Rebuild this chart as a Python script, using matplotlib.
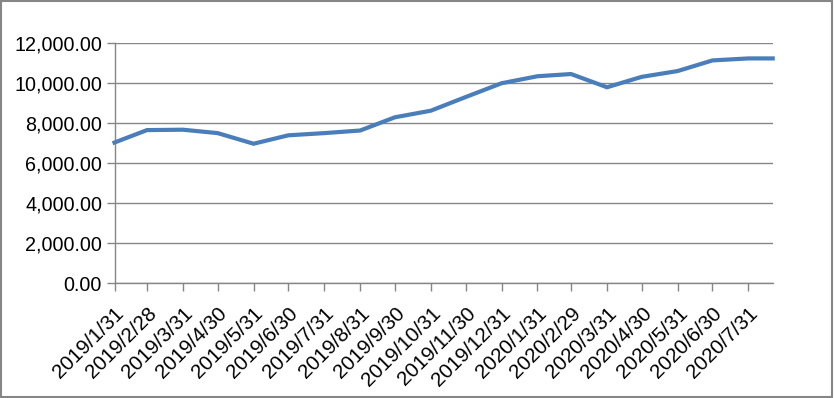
import matplotlib
matplotlib.use("Agg")
import matplotlib.pyplot as plt
import matplotlib.transforms as mtransforms
from matplotlib.patches import Rectangle
from matplotlib.ticker import FuncFormatter, MultipleLocator
import datetime as dt

dates = ["2019-01-31", "2019-02-28", "2019-03-31", "2019-04-30", "2019-05-31",
         "2019-06-30", "2019-07-31", "2019-08-31", "2019-09-30", "2019-10-31",
         "2019-11-30", "2019-12-31", "2020-01-31", "2020-02-29", "2020-03-31",
         "2020-04-30", "2020-05-31", "2020-06-30", "2020-07-31", "2020-08-21"]
values = [7030, 7650, 7670, 7500, 6970,
          7390, 7500, 7630, 8290, 8620,
          9300, 9990, 10340, 10450, 9790,
          10310, 10600, 11130, 11230, 11230]
tick_labels = ["2019/1/31", "2019/2/28", "2019/3/31", "2019/4/30", "2019/5/31",
               "2019/6/30", "2019/7/31", "2019/8/31", "2019/9/30", "2019/10/31",
               "2019/11/30", "2019/12/31", "2020/1/31", "2020/2/29", "2020/3/31",
               "2020/4/30", "2020/5/31", "2020/6/30", "2020/7/31"]

x = [dt.datetime.strptime(d, "%Y-%m-%d") for d in dates]
tick_dates = x[:len(tick_labels)]

plt.rcParams['font.family'] = ['Liberation Sans', 'DejaVu Sans']
grey = '#868686'

fig = plt.figure(figsize=(8.34, 3.98), dpi=100)
ax = fig.add_axes([114.5 / 834, 1 - 283.3 / 398, (772.7 - 114.5) / 834, (283.3 - 43) / 398])

ax.plot(x, values, color='#4A7EBB', lw=3.0, solid_joinstyle='miter', zorder=3, clip_on=False)

ax.set_xlim(x[0], x[-1])
ax.set_ylim(0, 12000)
ax.yaxis.set_major_locator(MultipleLocator(2000))
ax.yaxis.set_major_formatter(FuncFormatter(lambda v, p: f"{v:,.2f}"))
ax.set_xticks(tick_dates)
ax.set_xticklabels(tick_labels, rotation=45, ha='right', va='top', rotation_mode='anchor',
                   fontsize=14.8)
shift = mtransforms.ScaledTranslation(5 / 100, 0, fig.dpi_scale_trans)
for lab in ax.get_xticklabels():
    lab.set_transform(lab.get_transform() + shift)

ax.grid(axis='y', color=grey, lw=1.0, zorder=1)
for s in ['top', 'right']:
    ax.spines[s].set_visible(False)
for s in ['left', 'bottom']:
    ax.spines[s].set_color(grey)
    ax.spines[s].set_linewidth(1.0)
ax.tick_params(axis='both', colors=grey, labelcolor='black', width=1.0, length=5.5, direction='out')
ax.tick_params(axis='y', pad=3.5, labelsize=14.2)
ax.tick_params(axis='x', pad=9)

fig.patches.append(Rectangle((1 / 834, 1 / 398), 831 / 834, 396 / 398, transform=fig.transFigure,
                             fill=False, edgecolor=grey, lw=1.5))

fig.savefig("out.png", dpi=100)
